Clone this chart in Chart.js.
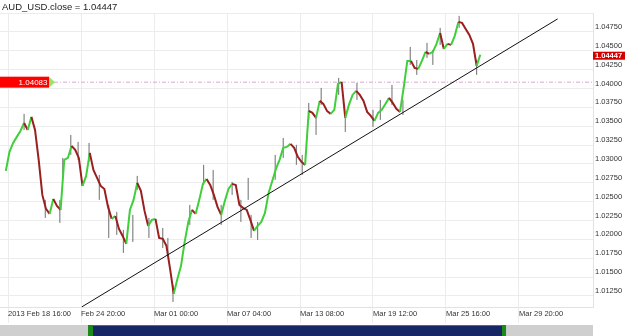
<!DOCTYPE html>
<html>
<head>
<meta charset="utf-8">
<script src="https://cdn.jsdelivr.net/npm/chart.js@4.4.1/dist/chart.umd.min.js"></script>
<style>
  html, body { margin: 0; padding: 0; background: #fff; }
</style>
</head>
<body>
<canvas id="fxChart" width="625" height="336"></canvas>
<script>
// AUD_USD hourly closes, read every 5 bars starting at bar -3 (bar 0 = 2013 Feb 18 16:00)
const firstBar = -3;
const barStep = 5;
const closes = [
    1.02907, 1.03159, 1.03278, 1.03358, 1.03437, 1.03543, 1.03450, 1.03623, 1.03450, 1.03053,
    1.02589, 1.02403, 1.02337, 1.02536, 1.02443, 1.02390, 1.03053, 1.03079, 1.03238, 1.03185,
    1.03079, 1.02708, 1.02841, 1.03146, 1.02920, 1.02814, 1.02708, 1.02668, 1.02430, 1.02271,
    1.02310, 1.02138, 1.02045, 1.01939, 1.02390, 1.02523, 1.02748, 1.02642, 1.02377, 1.02178,
    1.02257, 1.02271, 1.02019, 1.02006, 1.01913, 1.01608, 1.01277, 1.01475, 1.01648, 1.01966,
    1.02231, 1.02390, 1.02337, 1.02523, 1.02735, 1.02801, 1.02721, 1.02589, 1.02430, 1.02324,
    1.02509, 1.02668, 1.02735, 1.02721, 1.02456, 1.02417, 1.02390, 1.02257, 1.02112, 1.02178,
    1.02231, 1.02350, 1.02615, 1.02774, 1.02934, 1.03053, 1.03212, 1.03225, 1.03265, 1.03212,
    1.03093, 1.03026, 1.02987, 1.03702, 1.03676, 1.03610, 1.03835, 1.03795, 1.03702, 1.03663,
    1.03716, 1.04060, 1.04087, 1.03610, 1.03782, 1.03914, 1.03967, 1.03914, 1.03835, 1.03689,
    1.03636, 1.03570, 1.03676, 1.03716, 1.03795, 1.03875, 1.03808, 1.03729, 1.03689, 1.04007,
    1.04365, 1.04365, 1.04272, 1.04259, 1.04365, 1.04485, 1.04458, 1.04485, 1.04591, 1.04736,
    1.04524, 1.04591, 1.04577, 1.04697, 1.04882, 1.04869, 1.04789, 1.04710, 1.04591, 1.04299,
    1.04447
];

// high/low wicks that stand out in the picture
const wickBars  = [22, 51, 71, 75, 86, 96, 111, 125, 138, 149, 158, 171, 177, 193, 212, 219,
                   226, 249, 268, 281, 292, 307, 319, 329, 333, 342, 366, 377, 395, 403, 412, 422,
                   429, 453, 462, 478, 500, 510, 526, 541, 551, 560, 574, 582, 592, 618, 642];
const wickLows  = [1.03450, 1.02284, 1.02218, 1.02854, 1.03119, 1.03053, 1.03026, 1.02523, 1.02019, 1.02059,
                   1.01820, 1.01966, 1.02655, 1.02019, 1.01886, 1.01794, 1.01170, 1.02191, 1.02721, 1.02523,
                   1.02191, 1.02589, 1.02231, 1.02523, 1.02019, 1.01992, 1.02788, 1.03079, 1.02987, 1.02854,
                   1.03583, 1.03384, 1.03782, 1.03914, 1.03424, 1.03848, 1.03490, 1.03583, 1.03782, 1.03649,
                   1.04312, 1.04180, 1.04405, 1.04312, 1.04577, 1.04803, 1.04180];
const wickHighs = [1.03663, 1.02523, 1.02523, 1.03079, 1.03384, 1.03291, 1.03278, 1.02854, 1.02456, 1.02364,
                   1.02125, 1.02324, 1.02841, 1.02284, 1.02151, 1.02019, 1.01396, 1.02456, 1.02987, 1.02920,
                   1.02456, 1.02761, 1.02523, 1.02814, 1.02324, 1.02231, 1.03119, 1.03344, 1.03252, 1.03119,
                   1.03808, 1.03649, 1.04007, 1.04140, 1.03649, 1.04074, 1.03716, 1.03848, 1.04047, 1.03848,
                   1.04551, 1.04378, 1.04604, 1.04511, 1.04803, 1.04962, 1.04378];

const trendBars = [101, 753];
const trendValues = [1.01104, 1.04922];

const refLevel = 1.04083;
const lastClose = closes[closes.length - 1];

const xTickBars = [0, 100, 200, 300, 400, 500, 600, 700];
const xTickLabels = ['2013 Feb 18 16:00', 'Feb 24 20:00', 'Mar 01 00:00', 'Mar 07 04:00',
                     'Mar 13 08:00', 'Mar 19 12:00', 'Mar 25 16:00', 'Mar 29 20:00'];
const yTicks = [1.0125, 1.015, 1.0175, 1.02, 1.0225, 1.025, 1.0275, 1.03,
                1.0325, 1.035, 1.0375, 1.04, 1.0425, 1.045, 1.0475];

const FONT = '"Liberation Sans", Arial, sans-serif';
const UP = '#3fcf3a';
const DOWN = '#9a1f1f';
const GRID = '#ececec';

const closePoints = closes.map((v, i) => ({ x: firstBar + i * barStep, y: v }));
const wickPoints = [];
wickBars.forEach((b, i) => {
    wickPoints.push({ x: b, y: wickLows[i] }, { x: b, y: wickHighs[i] }, { x: b, y: null });
});
const trendPoints = trendBars.map((b, i) => ({ x: b, y: trendValues[i] }));

// title, price flags and the navigator strip
const overlay = {
    id: 'overlay',
    afterDraw(chart) {
        const { ctx, chartArea, scales: { y } } = chart;
        ctx.save();

        ctx.font = '9.5px ' + FONT;
        ctx.fillStyle = '#222';
        ctx.textBaseline = 'middle';
        ctx.textAlign = 'left';
        ctx.fillText('AUD_USD.close = ' + lastClose.toFixed(5), 2, 7);

        // left flag for the reference level
        const ry = y.getPixelForValue(refLevel);
        ctx.fillStyle = '#ff0000';
        ctx.fillRect(0, ry - 5.5, 49, 11);
        ctx.fillStyle = '#9be36a';
        ctx.beginPath();
        ctx.moveTo(49, ry - 5.5);
        ctx.lineTo(55, ry);
        ctx.lineTo(49, ry + 5.5);
        ctx.closePath();
        ctx.fill();
        ctx.fillStyle = '#fff';
        ctx.textAlign = 'right';
        ctx.font = '8px ' + FONT;
        ctx.fillText(refLevel.toFixed(5), 47.5, ry + 0.5);

        // right flag for the last close
        const ly = y.getPixelForValue(lastClose) + 1;
        ctx.fillStyle = '#d00000';
        ctx.fillRect(chartArea.right, ly - 4, 33, 8);
        ctx.fillStyle = '#fff';
        ctx.textAlign = 'left';
        ctx.font = 'bold 7.5px ' + FONT;
        ctx.fillText(lastClose.toFixed(5), chartArea.right + 2, ly + 0.5);

        // navigator
        const w = chartArea.right - chartArea.left;
        const top = 325, h = 11;
        const a = chartArea.left + w * 0.1484, b = chartArea.left + w * 0.855;
        ctx.fillStyle = '#cfcfcf';
        ctx.fillRect(chartArea.left, top, w, h);
        ctx.fillStyle = '#1a8a1a';
        ctx.fillRect(a, top, 5, h);
        ctx.fillRect(b - 5, top, 4, h);
        ctx.fillStyle = '#172766';
        ctx.fillRect(a + 5, top, b - a - 10, h);
        ctx.fillStyle = '#4a6a9a';
        ctx.fillRect(a + 5, top, b - a - 10, 1);
        ctx.restore();
    }
};

new Chart(document.getElementById('fxChart'), {
    type: 'line',
    data: {
        datasets: [
            {
                data: trendPoints,
                borderColor: '#111',
                borderWidth: 1,
                pointRadius: 0
            },
            {
                data: closePoints,
                borderWidth: 2,
                pointRadius: 0,
                tension: 0,
                borderColor: UP,
                segment: {
                    borderColor: c => c.p1.parsed.y >= c.p0.parsed.y ? UP : DOWN
                }
            },
            {
                data: wickPoints,
                borderColor: '#6d6d6d',
                borderWidth: 1,
                pointRadius: 0,
                spanGaps: false
            },
            {
                data: [{ x: -11, y: refLevel }, { x: 801.4, y: refLevel }],
                borderColor: '#d6a9d6',
                borderWidth: 1,
                borderDash: [4, 2, 1, 2],
                pointRadius: 0
            }
        ]
    },
    options: {
        responsive: false,
        animation: false,
        layout: { padding: { top: 13, left: 0, right: 0, bottom: 0 } },
        plugins: {
            legend: { display: false },
            tooltip: { enabled: false }
        },
        scales: {
            x: {
                type: 'linear',
                min: -11,
                max: 801.4,
                afterBuildTicks: s => { s.ticks = xTickBars.map(v => ({ value: v })); },
                afterFit: s => { s.height = 29; },
                grid: { color: GRID, tickColor: GRID, tickLength: 16 },
                border: { color: '#e2e2e2' },
                ticks: {
                    align: 'start',
                    padding: -14,
                    maxRotation: 0,
                    autoSkip: false,
                    color: '#333',
                    font: { family: FONT, size: 7.5 },
                    callback: (v, i) => xTickLabels[i]
                }
            },
            y: {
                type: 'linear',
                position: 'right',
                min: 1.01103,
                max: 1.05,
                afterBuildTicks: s => { s.ticks = yTicks.map(v => ({ value: v })).concat([{ value: 1.05 }]); },
                afterFit: s => { s.width = 32; },
                grid: { color: GRID, drawTicks: false },
                border: { color: '#e2e2e2' },
                ticks: {
                    padding: 2,
                    labelOffset: -5,
                    color: '#333',
                    font: { family: FONT, size: 7.5 },
                    callback: v => yTicks.includes(v) ? v.toFixed(5) : ''
                }
            }
        }
    },
    plugins: [overlay]
});
</script>
</body>
</html>
